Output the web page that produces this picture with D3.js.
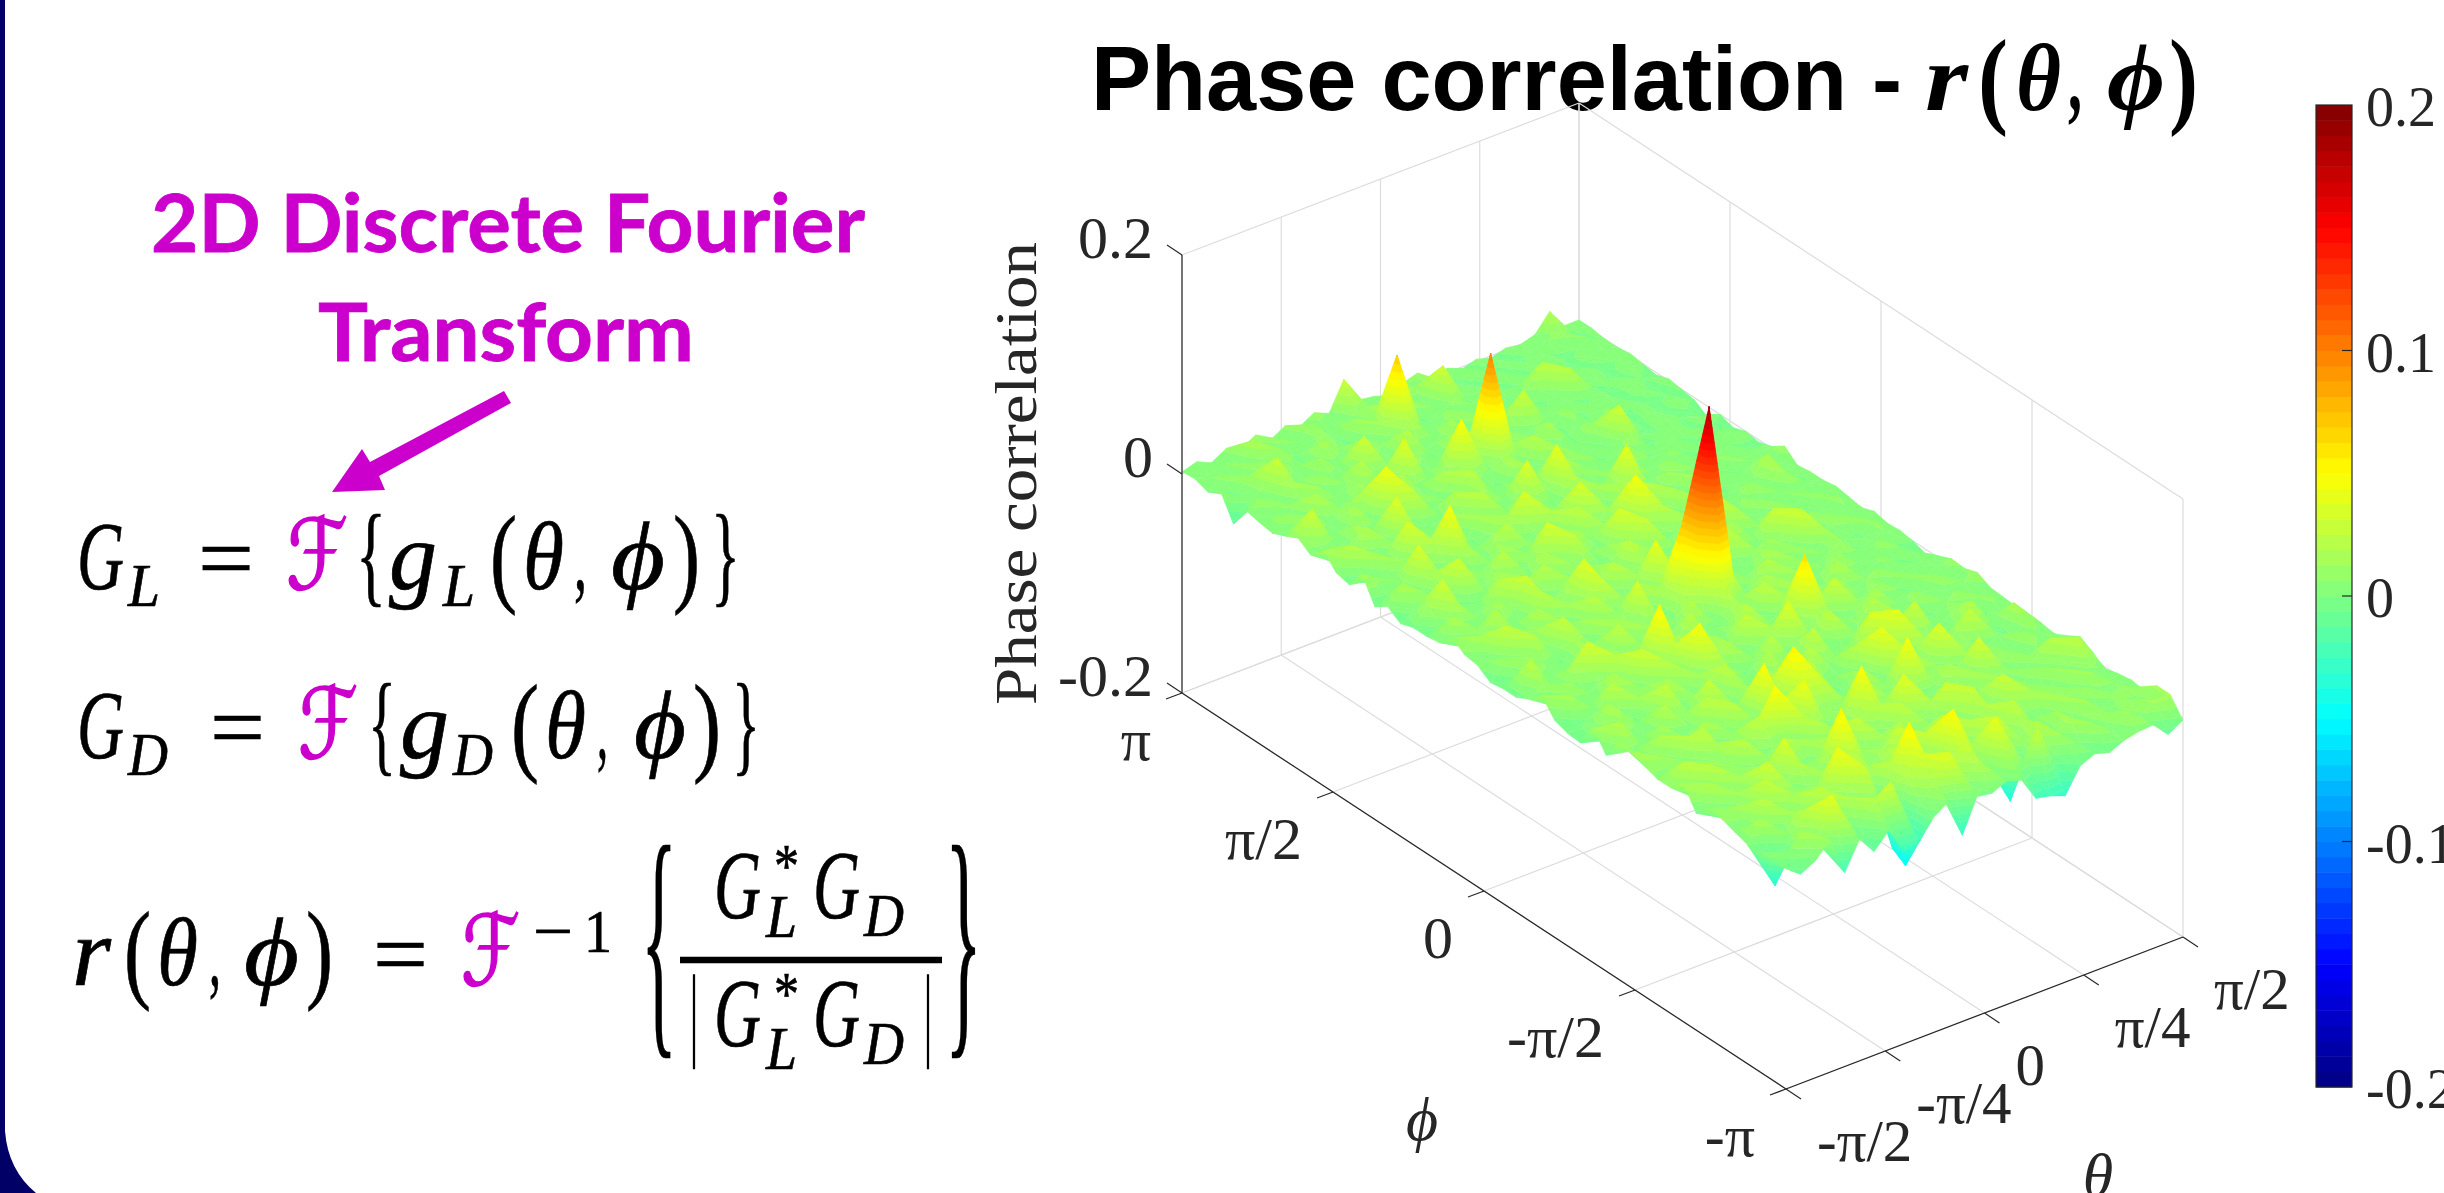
<!DOCTYPE html>
<html>
<head>
<meta charset="utf-8">
<script src="https://cdn.jsdelivr.net/npm/d3@7"></script>
<style>
  html, body { margin: 0; padding: 0; background: #fff; overflow: hidden; }
  text { font-family: "Liberation Serif", serif; }
</style>
</head>
<body>
<svg id="chart" width="2444" height="1193"></svg>
<script>
// tick values and labels
const PI = Math.PI;
const thetaTicks = [-PI / 2, -PI / 4, 0, PI / 4, PI / 2];
const thetaTickLabels = ["-π/2", "-π/4", "0", "π/4", "π/2"];
const phiTicks = [-PI, -PI / 2, 0, PI / 2, PI];
const phiTickLabels = ["-π", "-π/2", "0", "π/2", "π"];
const zTicks = [-0.2, 0, 0.2];
const zTickLabels = ["-0.2", "0", "0.2"];
const colorTicks = [-0.2, -0.1, 0, 0.1, 0.2];
const colorTickLabels = ["-0.2", "-0.1", "0", "0.1", "0.2"];
const jetStops = [0, 0.125, 0.375, 0.625, 0.875, 1];
const jetColors = ["#000080", "#0000ff", "#00ffff", "#ffff00", "#ff0000", "#800000"];

// surface heights, in units of 0.001
// one row per phi step (first row phi=-pi), one column per theta step (first column theta=-pi/2)
const surfaceMilli = [
  [2,-9,-2,12,-23,2,-14, 0,-24,-20,-4,5,-30,0, -2,4,0,-22,-25,-30,-8, -2,-6,0,3,4,-10,-2],
  [-2,4,18,2,40,6,-4, 22,32,-50,2,16,38,4, 20,-2,18,4,28,0,10, -2,12,2,14,4,14,14],
  [1,-35,6,24,8,-2,20, 2,10,-42,20,34,6,22, 30,4,42,-40,8,22,2, 16,0,10,2,12,2,14],
  [0,18,-4,14,2,26,0, 14,30,-2,26,55,10,6, 52,12,-2,30,4,16,-2, 14,4,14,-2,8,10,2],
  [4,-2,24,0,18,-4,16, 45,6,18,2,24,-2,28, 16,0,24,6,14,26,4, -2,16,0,12,2,6,4],
  [8,14,-4,28,6,10,-2, 14,-2,24,4,16,30,2, -2,26,4,2,20,0,12, 18,-2,10,2,14,-2,2],
  [10,-4,14,2,32,-2,22, 0,18,55,12,-4,14,22, 6,10,-4,16,28,2,30, 0,10,-2,14,0,8,-2],
  [-2,20,2,16,-2,14,36, 4,-2,20,0,28,4,-2, 26,2,18,30,-4,10,4, 14,0,12,-2,8,25,6],
  [18,-2,24,0,12,-4,8, 22,16,-2,18,2,14,24, 4,40,-2,6,14,0,16, -2,8,0,10,22,2,13],
  [6,25,-4,14,2,24,-2, 6,-2,26,2,-4,14,50, 0,10,24,-2,4,20,-2, 35,2,12,-2,6,-2,6],
  [6,-2,12,-2,18,0,14, 28,50,-4,45,12,-2,8, 26,-2,6,48,2,12,-2, 14,-2,8,0,12,4,0],
  [10,14,-2,22,25,-4,10, -2,4,20,0,24,30,-2, 4,20,-4,10,22,-2,38, 0,10,-2,6,0,10,2],
  [16,-4,20,0,6,18,-2, 24,-2,50,8,55,14,2, -4,12,0,42,-2,6,16, -2,12,28,2,-2,18,-9],
  [16,4,-2,16,-4,2,26, 2,8,-2,16,-2,6,26, 2,-4,22,6,14,40,-2, 8,-2,6,22,0,2,2],
  [-3,22,2,-4,22,6,-2, 30,-4,14,4,18,0,-4, 24,6,-2,10,35,0,12, 30,-2,2,12,-2,8,3],
  [14,-2,12,4,-2,28,0, 8,-2,26,-4,2,22,4, 0,28,4,-2,6,16,-2, 10,6,-2,6,10,-2,4],
  [-7,6,18,-4,14,0,20, -2,14,6,12,-4,6,24, -2,12,2,26,-2,8,22, -2,2,12,-2,4,6,10],
  [-6,-2,4,24,2,10,-2, 22,-4,48,6,20,-4,2, 18,38,-2,14,6,-2,10, 18,-2,4,0,10,-2,6],
  [-2,16,-4,2,20,-2,32, 0,24,2,-2,18,6,28, -4,6,12,62,4,30,-2, 4,12,-2,8,-2,6,7],
  [13,-2,14,-2,6,24,2, 10,55,-4,18,2,-2,10, 24,-2,4,14,-2,6,18, -2,6,10,-2,4,0,2],
  [2,10,-4,16,34,-2,14, -2,6,12,2,24,4,-2, 16,2,26,-2,16,0,4, 20,-2,2,8,-2,4,-4],
  [-4,25,2,-2,6,18,-2, 26,-2,14,-4,6,22,-2, 30,8,0,20,-4,14,-2, 6,14,-2,2,10,-2,0],
  [-4,-2,14,4,-4,14,6, -2,18,2,16,-4,12,34, 182,36,-2,8,22,-2,12, -2,6,12,-2,4,6,2],
  [-6,12,-2,22,2,28,-2, 16,0,8,35,-2,18,70, 38,6,14,-2,6,18,-2, 10,-2,14,2,-2,8,1],
  [2,0,28,-4,14,-2,10, -2,24,-4,10,20,-2,20, 4,-4,24,4,-2,10,14, -2,32,0,6,10,-2,4],
  [4,16,-2,10,-2,20,2, 14,-2,32,-2,2,14,42, 12,20,-2,12,26,-2,4, 30,2,-2,10,-2,6,0],
  [12,-2,8,22,2,-4,24, -2,16,38,6,24,-4,10, -2,8,24,-2,4,20,-2, 6,16,-2,4,0,8,2],
  [0,18,-4,2,16,6,30, -4,4,12,-2,14,2,26, 14,-4,6,18,-2,8,22, -2,2,10,-2,8,-2,4],
  [-2,-2,20,-2,6,24,-2, 14,22,-4,12,2,-2,16, 4,28,-2,6,14,36,-2, 4,10,-2,6,0,4,2],
  [-2,14,32,4,-4,4,18, -2,4,20,-2,26,6,-2, 35,-2,10,22,0,6,12, -2,4,12,-2,14,-2,2],
  [-6,2,10,-2,33,-2,8, 24,-2,10,35,-4,18,4, 12,-4,48,4,-2,18,0, 10,-2,2,6,20,2,0],
  [2,18,-4,16,4,12,-2, 6,16,-4,4,14,-2,26, 0,14,10,-2,22,2,-2, 14,0,6,-2,6,0,10],
  [-6,-2,6,35,-2,0,22, -4,12,24,-2,6,20,-2, 36,2,-2,20,6,-2,14, -2,6,-2,8,0,2,2],
  [16,8,-2,12,4,20,48, 2,-2,8,18,35,-2,8, 6,-2,16,2,42,-2,4, 12,-2,4,0,6,-2,-2],
  [-1,-4,16,-2,36,2,8, 20,-2,16,-4,6,22,4, -2,22,4,-2,8,14,-2, 2,8,-2,2,0,6,0],
  [2,22,2,-2,8,10,-2, 6,14,-2,24,-2,2,38, 2,42,-2,10,-2,2,14, -2,0,6,-2,4,-2,-4],
  [15,-2,8,20,-2,38,6, -2,2,22,4,14,-2,10, -2,6,20,-2,8,-2,4, 10,-2,2,4,-2,2,0],
  [3,6,-4,14,2,-2,10, 26,-2,6,-2,24,2,-4, 18,-2,4,14,-2,6,-2, 32,0,-2,4,0,-2,-10],
  [11,32,2,-2,18,-2,45, 0,12,-2,20,-2,10,4, 14,-2,22,0,4,-2,12, 0,6,-2,2,-2,4,-2],
  [5,-2,12,2,8,16,4, -2,20,4,-2,14,50,2, 100,10,-2,6,16,-2,4, 0,8,-2,2,-2,0,0],
  [0,12,-4,20,-2,2,14, 8,-2,40,2,-2,6,-2, 22,2,12,-2,6,-2,10, -2,2,6,-2,2,-2,2],
  [2,-2,8,2,14,-2,6, 22,-2,4,16,6,-2,14, 4,-2,4,14,30,-2,2, 6,-2,2,-2,4,0,-2],
  [5,10,-2,16,-2,12,2, -2,32,2,-2,22,-2,2, 16,-2,10,-2,4,8,-2, 2,22,0,2,-2,2,0],
  [-15,2,8,30,4,-2,14, 2,-2,16,6,2,20,-2, 2,12,-2,6,2,-2,8, 25,-2,0,4,-2,0,2],
  [7,-2,12,-2,14,4,-2, 16,6,-2,2,14,70,6, -2,4,8,-2,6,2,-2, 4,0,2,-2,2,4,0],
  [-1,8,-2,10,2,12,-2, 4,10,-2,14,-2,18,2, 10,-2,32,0,2,-2,6, -2,2,6,-2,0,6,0],
  [3,2,6,-2,18,-2,8, -2,12,2,-2,10,4,-2, 6,10,-2,4,-2,6,-2, 2,-2,2,6,8,-2,2],
  [2,6,0,8,2,10,0, 8,2,10,4,30,6,4, 0,6,10,0,4,-2,2, -2,2,0,4,20,2,2]
];
surfaceMilli.forEach(function (r, i) { if (r.length != 28) throw new Error("row " + i + " has " + r.length); });

// text of the equations on the left: glyph, left and right edge, baseline, size, kind
// kind 0 upright, 1 italic, 2 script F
const MAGENTA = "#cc00cc";
const equationGlyphs = [
  // G_L = F{g_L(theta,phi)}
  ["G",77,124,589,98,1],["L",128,160,606,62,1],["=",198,254,589,92,0],["ℱ",286,348,589,98,2],["{",356,386,592,112,0],
  ["g",389,437,589,98,1],["L",443,475,606,62,1],["(",490,517,592,110,0],["θ",523,564,589,98,1],[",",574,587,589,92,0],
  ["ϕ",611,665,589,98,1],[")",673,700,592,110,0],["}",711,740,592,112,0],
  // G_D = F{g_D(theta,phi)}
  ["G",77,124,758,98,1],["D",128,168,775,62,1],["=",210,265,758,92,0],["ℱ",298,358,758,98,2],["{",368,396,761,112,0],
  ["g",400,449,758,98,1],["D",453,493,775,62,1],["(",511,539,761,110,0],["θ",545,586,758,98,1],[",",597,608,758,92,0],
  ["ϕ",634,686,758,98,1],[")",693,721,761,110,0],["}",732,760,761,112,0],
  // r(theta,phi) = F^-1 {...}
  ["r",72,111,985,98,1],["(",124,151,988,110,0],["θ",157,198,985,98,1],[",",209,221,985,92,0],["ϕ",244,299,985,98,1],
  [")",306,333,988,110,0],["=",373,428,985,92,0],["ℱ",461,520,985,98,2],["−",533,573,952,62,0],["1",584,612,952,62,0],
  ["{",641,677,1024,256,0],["}",945,982,1024,256,0],
  ["G",714,761,918,98,1],["*",774,799,886,62,0],["L",766,797,937,62,1],["G",813,860,918,98,1],["D",864,904,936,62,1],
  ["|",690,698,1047,104,0],["G",714,761,1046,98,1],["*",774,799,1014,62,0],["L",766,797,1069,62,1],["G",813,860,1046,98,1],
  ["D",864,904,1064,62,1],["|",924,932,1047,104,0]
];
const titleMathGlyphs = [
  ["r",1925,1968,96],["(",1978,2008,108],["θ",2016,2061,96],[",",2068,2082,96],["ϕ",2107,2165,96],[")",2169,2198,108]
];

const svg = d3.select("#chart");

// slide frame, the dark border on the left edge
svg.append("path")
  .attr("d", "M0,0 L5,0 L5,1131 Q8,1170 36,1193 L0,1193 Z")
  .attr("fill", "#000066");

// heading on the left and its arrow
const heading = svg.append("g")
  .attr("font-weight", 700).attr("fill", MAGENTA)
  .attr("stroke", MAGENTA).attr("stroke-width", 0.8);
heading.append("text").style("font-family", "Lato, sans-serif")
  .attr("x", 151).attr("y", 252).attr("font-size", 80)
  .attr("textLength", 714).attr("lengthAdjust", "spacingAndGlyphs")
  .text("2D Discrete Fourier");
heading.append("text").style("font-family", "Lato, sans-serif")
  .attr("x", 318).attr("y", 361).attr("font-size", 80)
  .attr("textLength", 376).attr("lengthAdjust", "spacingAndGlyphs")
  .text("Transform");
svg.append("path")
  .attr("d", "M332,492 L362,449 L370,462 L504,391 L511,403 L379,476 L385,490 Z")
  .attr("fill", MAGENTA);

// equations
const eq = svg.append("g").attr("fill", "#000").attr("stroke", "#000").attr("stroke-width", 0.7);
equationGlyphs.forEach(function (d) {
  let t = eq.append("text")
    .attr("x", d[1]).attr("y", d[3]).attr("font-size", d[4])
    .attr("textLength", d[2] - d[1]).attr("lengthAdjust", "spacingAndGlyphs")
    .text(d[0]);
  if (d[5] == 1) t.attr("font-style", "italic");
  if (d[5] == 2) {
    t.attr("fill", MAGENTA).attr("stroke", MAGENTA).attr("stroke-width", 1.6)
      .style("font-family", "'DejaVu Sans', sans-serif");
  }
});
eq.append("line").attr("x1", 680).attr("x2", 942).attr("y1", 960).attr("y2", 960)
  .attr("stroke", "#000").attr("stroke-width", 6.5);

// title
svg.append("text")
  .style("font-family", "'Liberation Sans', sans-serif")
  .attr("x", 1091).attr("y", 110).attr("font-size", 90).attr("font-weight", 700).attr("fill", "#000")
  .attr("textLength", 811).attr("lengthAdjust", "spacingAndGlyphs")
  .text("Phase correlation -");
titleMathGlyphs.forEach(function (d) {
  svg.append("text")
    .attr("x", d[1]).attr("y", d[0] == "(" || d[0] == ")" ? 114 : 110).attr("font-size", d[3]).attr("font-weight", 700)
    .attr("font-style", d[0] == "(" || d[0] == ")" || d[0] == "," ? "normal" : "italic").attr("fill", "#000")
    .attr("textLength", d[2] - d[1]).attr("lengthAdjust", "spacingAndGlyphs")
    .text(d[0]);
});

// projection of the 3D box, front floor corner is theta=-pi/2, phi=-pi, z=-0.2
const frontX = 1786, frontY = 1089;
const thetaFrac = d3.scaleLinear().domain([-PI / 2, PI / 2]).range([0, 1]);
const phiFrac = d3.scaleLinear().domain([-PI, PI]).range([0, 1]);
const zPixels = d3.scaleLinear().domain([-0.2, 0.2]).range([0, 438]);
function project(th, ph, z) {
  let a = thetaFrac(th), b = phiFrac(ph);
  return [frontX + a * 397 - b * 604, frontY - a * 152 - b * 396 - zPixels(z)];
}
function seg(g, p, q, color, width) {
  g.append("line")
    .attr("x1", p[0]).attr("y1", p[1]).attr("x2", q[0]).attr("y2", q[1])
    .attr("stroke", color).attr("stroke-width", width);
}

// grid on floor and the two back walls
const grid = svg.append("g");
const GRID = "#dcdcdc";
const ZMIN = -0.2, ZMAX = 0.2;
thetaTicks.forEach(function (t) {
  seg(grid, project(t, -PI, ZMIN), project(t, PI, ZMIN), GRID, 1.2);
  seg(grid, project(t, PI, ZMIN), project(t, PI, ZMAX), GRID, 1.2);
});
phiTicks.forEach(function (p) {
  seg(grid, project(-PI / 2, p, ZMIN), project(PI / 2, p, ZMIN), GRID, 1.2);
  seg(grid, project(PI / 2, p, ZMIN), project(PI / 2, p, ZMAX), GRID, 1.2);
});
zTicks.forEach(function (z) {
  seg(grid, project(-PI / 2, PI, z), project(PI / 2, PI, z), GRID, 1.2);
  seg(grid, project(PI / 2, PI, z), project(PI / 2, -PI, z), GRID, 1.2);
});

// colour scales
const jet = d3.scaleLinear()
  .domain(jetStops.map(function (t) { return ZMIN + t * (ZMAX - ZMIN); }))
  .range(jetColors);
const LEVELS = 64;
const levelOf = d3.scaleQuantize().domain([ZMIN, ZMAX]).range(d3.range(LEVELS));
const levelEdge = d3.scaleLinear().domain([0, LEVELS]).range([ZMIN, ZMAX]);
function levelColor(k) { return jet(levelEdge(k + 0.5)); }

// surface: every cell is two triangles, cut into colour bands so that a spike shows its gradient
const thetaOf = d3.scaleLinear().domain([0, surfaceMilli[0].length - 1]).range([-PI / 2, PI / 2]);
const phiOf = d3.scaleLinear().domain([0, surfaceMilli.length - 1]).range([-PI, PI]);
function corner(i, j) {
  return { th: thetaOf(j), ph: phiOf(i), z: surfaceMilli[i][j] / 1000 };
}
function clipZ(poly, level, keepAbove) {
  let out = [];
  poly.forEach(function (p, n) {
    let q = poly[(n + 1) % poly.length];
    let pIn = keepAbove ? p.z >= level : p.z <= level;
    let qIn = keepAbove ? q.z >= level : q.z <= level;
    if (pIn) out.push(p);
    if (pIn != qIn) {
      let s = (level - p.z) / (q.z - p.z);
      out.push({ th: p.th + s * (q.th - p.th), ph: p.ph + s * (q.ph - p.ph), z: level });
    }
  });
  return out;
}
let facets = [];
function addTriangle(tri) {
  let zs = tri.map(function (p) { return p.z; });
  let k0 = levelOf(d3.min(zs)), k1 = levelOf(d3.max(zs));
  for (let k = k0; k <= k1; k++) {
    let poly = clipZ(clipZ(tri, levelEdge(k), true), levelEdge(k + 1), false);
    if (poly.length > 2) facets.push({ k: k, pts: poly.map(function (p) { return project(p.th, p.ph, p.z); }) });
  }
}
// back to front, so nearer cells paint over farther ones
for (let i = surfaceMilli.length - 2; i >= 0; i--) {
  for (let j = surfaceMilli[0].length - 2; j >= 0; j--) {
    addTriangle([corner(i + 1, j + 1), corner(i + 1, j), corner(i, j + 1)]);
    addTriangle([corner(i + 1, j), corner(i, j), corner(i, j + 1)]);
  }
}
svg.append("g").selectAll("path")
  .data(facets)
  .join("path")
  .attr("d", function (d) { return "M" + d.pts.map(function (p) { return p[0].toFixed(1) + "," + p[1].toFixed(1); }).join("L") + "Z"; })
  .attr("fill", function (d) { return levelColor(d.k); })
  .attr("stroke", function (d) { return levelColor(d.k); })
  .attr("stroke-width", 0.4);

// axes lines, ticks and labels
const axes = svg.append("g");
const INK = "#262626";
seg(axes, project(-PI / 2, PI, ZMIN), project(-PI / 2, PI, ZMAX), INK, 1.2);
seg(axes, project(-PI / 2, PI, ZMIN), project(-PI / 2, -PI, ZMIN), INK, 1.2);
seg(axes, project(-PI / 2, -PI, ZMIN), project(PI / 2, -PI, ZMIN), INK, 1.2);

function label(x, y, anchor, size, txt) {
  return axes.append("text")
    .attr("x", x).attr("y", y).attr("text-anchor", anchor)
    .attr("font-size", size).attr("fill", INK).text(txt);
}
zTicks.forEach(function (z, i) {
  let p = project(-PI / 2, PI, z);
  seg(axes, p, [p[0] - 15, p[1] - 10], INK, 1.2);
  label(p[0] - 29, p[1] + 3, "end", 60, zTickLabels[i]);
});
phiTicks.forEach(function (v, i) {
  let p = project(-PI / 2, v, ZMIN);
  seg(axes, p, [p[0] - 16, p[1] + 6], INK, 1.2);
  label(p[0] - 31, p[1] + 67, "end", 60, phiTickLabels[i]);
});
thetaTicks.forEach(function (v, i) {
  let p = project(v, -PI, ZMIN);
  seg(axes, p, [p[0] + 15, p[1] + 10], INK, 1.2);
  label(p[0] + 31, p[1] + 72, "start", 59, thetaTickLabels[i]);
});
axes.append("text")
  .attr("transform", "translate(1036,705) rotate(-90)")
  .attr("font-size", 60).attr("fill", INK)
  .attr("textLength", 463).attr("lengthAdjust", "spacingAndGlyphs")
  .text("Phase correlation");
label(1422, 1140, "middle", 62, "ϕ").attr("font-style", "italic");
label(2098, 1196, "middle", 62, "θ").attr("font-style", "italic");

// colour bar
const barX = 2316, barW = 36, barTop = 105, barBottom = 1087;
const colorY = d3.scaleLinear().domain([ZMIN, ZMAX]).range([barBottom, barTop]);
const bar = svg.append("g");
bar.selectAll("rect")
  .data(d3.range(LEVELS))
  .join("rect")
  .attr("x", barX).attr("width", barW)
  .attr("y", function (k) { return colorY(levelEdge(k + 1)); })
  .attr("height", function (k) { return colorY(levelEdge(k)) - colorY(levelEdge(k + 1)) + 0.5; })
  .attr("fill", levelColor);
bar.append("rect")
  .attr("x", barX).attr("y", barTop).attr("width", barW).attr("height", barBottom - barTop)
  .attr("fill", "none").attr("stroke", INK).attr("stroke-width", 1.2);
colorTicks.forEach(function (v, i) {
  let y = colorY(v);
  if (i > 0 && i < colorTicks.length - 1) seg(bar, [barX + barW - 10, y], [barX + barW, y], INK, 1.2);
  bar.append("text")
    .attr("x", 2366).attr("y", y + 21).attr("font-size", 56).attr("fill", INK)
    .text(colorTickLabels[i]);
});
</script>
</body>
</html>
